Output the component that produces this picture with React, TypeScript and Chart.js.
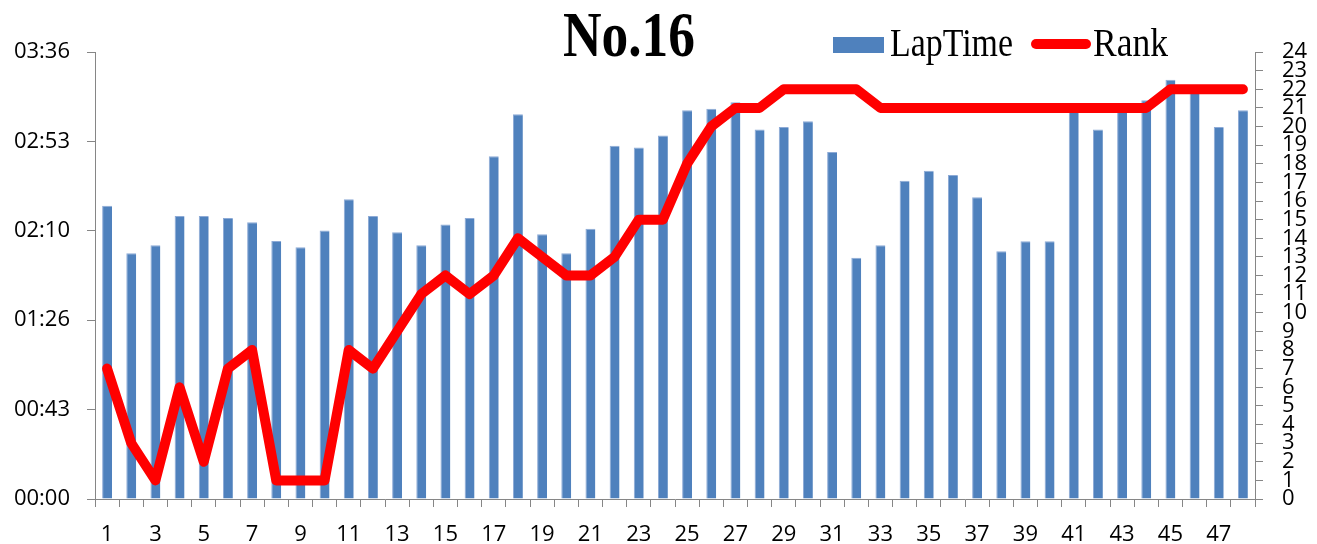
import React, { useEffect, useRef } from "react";
import { Chart, registerables } from "chart.js";

Chart.register(...registerables);

const TITLE = "No.16";
const LAPS = Array.from({ length: 48 }, (_, i) => String(i + 1));
const LAP_TIME_SEC = [
  141.7, 118.7, 122.6, 136.8, 136.8, 135.8, 133.7, 124.7, 121.6, 129.8,
  144.8, 136.8, 128.9, 122.6, 132.7, 135.8, 165.6, 185.9, 127.9, 118.7,
  130.6, 170.7, 169.8, 175.7, 187.8, 188.6, 191.7, 178.6, 179.8, 182.5,
  167.7, 116.6, 122.6, 153.8, 158.6, 156.6, 145.8, 119.7, 124.5, 124.5,
  188.0, 178.6, 187.0, 192.7, 202.6, 199.6, 179.8, 187.8,
];
const RANK = [
  7, 3, 1, 6, 2, 7, 8, 1, 1, 1,
  8, 7, 9, 11, 12, 11, 12, 14, 13, 12,
  12, 13, 15, 15, 18, 20, 21, 21, 22, 22,
  22, 22, 21, 21, 21, 21, 21, 21, 21, 21,
  21, 21, 21, 21, 22, 22, 22, 22,
];
const TIME_TICKS = [0, 43.2, 86.4, 129.6, 172.8, 216];
const RANK_MAX = 24;

const BLUE = "#4F81BD";
const RED = "#FF0000";
const AXIS_GREY = "#868686";
const TICK_FONT = { family: "'Open Sans'", size: 22 };

function fmtTime(v: number): string {
  const s = Math.round(v);
  const m = Math.floor(s / 60);
  const r = s % 60;
  return String(m).padStart(2, "0") + ":" + String(r).padStart(2, "0");
}

const headerPlugin = {
  id: "header",
  afterDraw(chart: any) {
    const ctx = chart.ctx as CanvasRenderingContext2D;
    const drawFit = (text: string, font: string, x: number, y: number, w: number) => {
      ctx.save();
      ctx.font = font;
      ctx.fillStyle = "#000";
      ctx.textAlign = "left";
      ctx.textBaseline = "alphabetic";
      const mw = ctx.measureText(text).width;
      ctx.translate(x, y);
      ctx.scale(w / mw, 1);
      ctx.fillText(text, 0, 0);
      ctx.restore();
    };
    drawFit(TITLE, "bold 63px 'Liberation Serif'", 563, 56, 132);
    // legend
    ctx.save();
    ctx.fillStyle = BLUE;
    ctx.fillRect(833, 37, 51, 16);
    ctx.strokeStyle = RED;
    ctx.lineWidth = 10;
    ctx.lineCap = "round";
    ctx.beginPath();
    ctx.moveTo(1036, 44);
    ctx.lineTo(1086, 44);
    ctx.stroke();
    ctx.restore();
    drawFit("LapTime", "41px 'Liberation Serif'", 890, 56, 123);
    drawFit("Rank", "41px 'Liberation Serif'", 1093, 56, 75);
  },
};

export default function App() {
  const ref = useRef<HTMLCanvasElement>(null);
  useEffect(() => {
    const chart = new Chart(ref.current!, {
      type: "bar",
      data: {
        labels: LAPS,
        datasets: [
          {
            type: "line",
            label: "Rank",
            data: RANK,
            yAxisID: "yRank",
            borderColor: RED,
            backgroundColor: RED,
            borderWidth: 10,
            borderCapStyle: "round",
            borderJoinStyle: "round",
            pointRadius: 0,
            tension: 0,
            order: 0,
          } as any,
          {
            type: "bar",
            label: "LapTime",
            data: LAP_TIME_SEC,
            yAxisID: "yTime",
            backgroundColor: BLUE,
            borderColor: "#8DAAD6",
            borderWidth: { left: 1, right: 0, top: 1, bottom: 0 },
            barPercentage: 0.41,
            categoryPercentage: 1,
            order: 1,
          } as any,
        ],
      },
      options: {
        responsive: false,
        animation: false,
        layout: { padding: { top: 52, left: 0, right: 0, bottom: 0 } },
        plugins: { legend: { display: false }, title: { display: false }, tooltip: { enabled: false } },
        scales: {
          x: {
            grid: { offset: true, drawOnChartArea: false, tickLength: 8, color: AXIS_GREY },
            border: { color: AXIS_GREY, width: 1 },
            ticks: {
              autoSkip: false,
              maxRotation: 0,
              padding: 15,
              color: "#000",
              font: TICK_FONT,
              callback: (_v: any, i: number) => (i % 2 === 0 ? LAPS[i] : ""),
            },
            afterFit: (s: any) => { s.height = 45; },
          },
          yTime: {
            position: "left",
            min: 0,
            max: 216,
            grid: { drawOnChartArea: false, tickLength: 8, color: AXIS_GREY },
            border: { color: AXIS_GREY, width: 1 },
            ticks: {
              autoSkip: false,
              padding: 17,
              color: "#000",
              font: TICK_FONT,
              callback: (v: any) => fmtTime(Number(v)),
            },
            afterBuildTicks: (s: any) => { s.ticks = TIME_TICKS.map((v) => ({ value: v })); },
            afterFit: (s: any) => { s.width = 95; },
          },
          yRank: {
            position: "right",
            min: 0,
            max: RANK_MAX,
            grid: { drawOnChartArea: false, tickLength: 8, color: AXIS_GREY },
            border: { color: AXIS_GREY, width: 1 },
            ticks: {
              autoSkip: false,
              stepSize: 1,
              padding: 19,
              color: "#000",
              font: TICK_FONT,
            },
            afterFit: (s: any) => { s.width = 62; },
          },
        },
      } as any,
      plugins: [headerPlugin],
    });
    return () => chart.destroy();
  }, []);
  return (
    <div style={{ position: "absolute", left: 0, top: 0, width: 1317, height: 544, background: "#fff" }}>
      <canvas ref={ref} width={1317} height={544} style={{ display: "block" }} />
    </div>
  );
}
